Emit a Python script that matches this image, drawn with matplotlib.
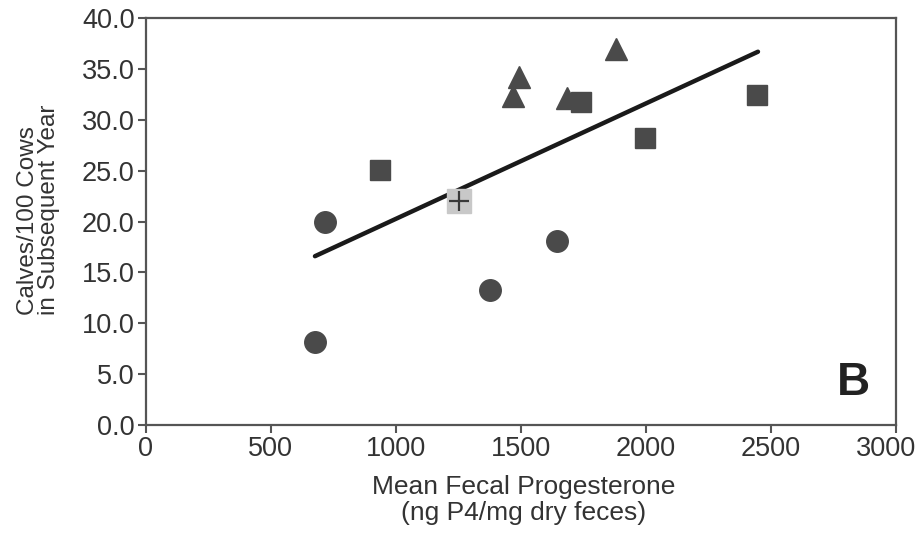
import numpy as np
import matplotlib
matplotlib.use('Agg')
import matplotlib.pyplot as plt
import matplotlib.transforms as mtransforms

plt.rcParams['font.family'] = ['Liberation Sans', 'DejaVu Sans']

# data
circle_x = [676, 716, 1376, 1644]
circle_y = [8.2, 20.0, 13.3, 18.1]
square_x = [938, 1740, 1998, 2446]
square_y = [25.1, 31.8, 28.2, 32.4]
tri_x = [1468, 1492, 1684, 1880]
tri_y = [32.3, 34.2, 32.2, 37.0]
plus_x = [1252]
plus_y = [22.0]
line_x = [676, 2448]
line_y = [16.6, 36.7]

xticks = [0, 500, 1000, 1500, 2000, 2500, 3000]
yticks = [0, 5, 10, 15, 20, 25, 30, 35, 40]

dark = '#4a4a4a'
axc = '#555555'

fig = plt.figure(figsize=(9.18, 5.34), dpi=100)
ax = fig.add_axes([0.159, 0.204, 0.817, 0.762])

ax.plot(line_x, line_y, color='#1a1a1a', lw=3.2, solid_capstyle='round', zorder=2)
ax.plot(circle_x, circle_y, 'o', ms=15.5, color=dark, mec=dark, zorder=3)
ax.plot(square_x, square_y, 's', ms=14.5, color=dark, mec=dark, zorder=3)
ax.plot(tri_x, tri_y, '^', ms=16, color=dark, mec=dark, zorder=3)
ax.plot(plus_x, plus_y, 's', ms=17, color='#c8c8c8', mec='#c8c8c8', zorder=3)
ax.plot(plus_x, plus_y, '+', ms=14, color='#3a3a3a', mew=1.6, zorder=4)

ax.set_xlim(0, 3000)
ax.set_ylim(0, 40)
ax.set_xticks(xticks)
ax.set_yticks(yticks)
ax.set_yticklabels(['%.1f' % v for v in yticks])
ax.tick_params(direction='out', length=6, width=1.5, color=axc,
               labelsize=19.5, labelcolor='#333333', pad=2)
for s in ax.spines.values():
    s.set_color(axc)
    s.set_linewidth(1.6)

# last x label sits against the right edge, nudge it in a bit
lab = ax.get_xticklabels()[-1]
lab.set_transform(lab.get_transform() + mtransforms.ScaledTranslation(-10 / 100, 0, fig.dpi_scale_trans))

ax.set_xlabel('Mean Fecal Progesterone\n(ng P4/mg dry feces)', fontsize=19,
              color='#333333', linespacing=1.1, va='top')
ax.xaxis.set_label_coords(0.504, -0.123)
ax.set_ylabel('Calves/100 Cows\nin Subsequent Year', fontsize=17.5,
              color='#333333', linespacing=0.95, multialignment='left')
ax.yaxis.set_label_coords(-0.114, 0.53)

ax.text(0.965, 0.05, 'B', transform=ax.transAxes, ha='right', va='bottom',
        fontsize=33, fontweight='bold', color='#222222')

fig.savefig('out.png', dpi=100)
